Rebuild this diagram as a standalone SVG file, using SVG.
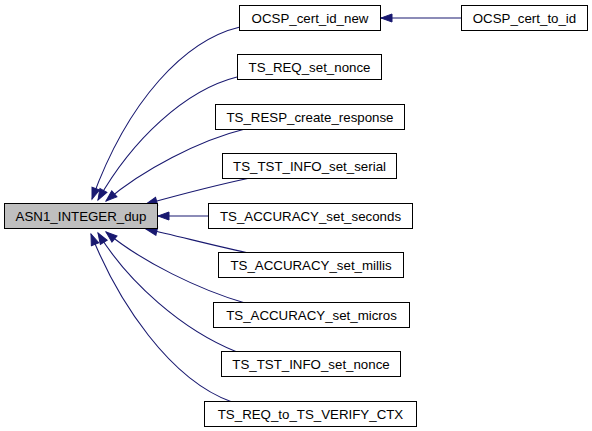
<svg xmlns="http://www.w3.org/2000/svg" width="592" height="431" viewBox="0 0 592 431">
<style>
.n rect{fill:#fff;stroke:#000;stroke-width:1}
.n text{font-family:"Liberation Sans",Arial,sans-serif;font-size:13.3px;text-anchor:middle;fill:#000}
.e path{fill:none;stroke:#191970;stroke-width:1.1}
</style>
<defs>
<marker id="a" markerUnits="userSpaceOnUse" markerWidth="14" markerHeight="11" refX="12" refY="5" orient="auto">
<path d="M1,1 L12,5 L1,9 z" fill="#191970" stroke="#191970" stroke-width="1"/>
</marker>
</defs>
<rect width="592" height="431" fill="#fff"/>
<g id="edges" class="e">
<path d="M461,18 L381,18" marker-end="url(#a)"/>
<path d="M240,27 C185,40 128,100 92,199" marker-end="url(#a)"/>
<path d="M237,77 C185,90 132,140 98,200" marker-end="url(#a)"/>
<path d="M245,129 C200,140 142,170 106,201" marker-end="url(#a)"/>
<path d="M250,178 C212,186 175,196 146,204" marker-end="url(#a)"/>
<path d="M208,216 L158,216" marker-end="url(#a)"/>
<path d="M253,254 C215,246 178,236 146,229" marker-end="url(#a)"/>
<path d="M245,303 C200,290 142,262 106,232" marker-end="url(#a)"/>
<path d="M237,352 C182,330 128,282 98,233" marker-end="url(#a)"/>
<path d="M232,402 C170,380 118,302 91,234" marker-end="url(#a)"/>
</g>
<g id="ASN1_INTEGER_dup" class="n"><rect x="4.5" y="203.5" width="153" height="25" style="fill:#bfbfbf"/><text x="81" y="221">ASN1_INTEGER_dup</text></g>
<g id="OCSP_cert_id_new" class="n"><rect x="239.5" y="5.5" width="141" height="25"/><text x="310" y="23">OCSP_cert_id_new</text></g>
<g id="OCSP_cert_to_id" class="n"><rect x="461.5" y="5.5" width="126" height="25"/><text x="524.5" y="23">OCSP_cert_to_id</text></g>
<g id="TS_REQ_set_nonce" class="n"><rect x="237.5" y="54.5" width="144" height="25"/><text x="309.5" y="72">TS_REQ_set_nonce</text></g>
<g id="TS_RESP_create_response" class="n"><rect x="215.5" y="104.5" width="189" height="25"/><text x="310" y="122">TS_RESP_create_response</text></g>
<g id="TS_TST_INFO_set_serial" class="n"><rect x="222.5" y="153.5" width="174" height="25"/><text x="309.5" y="171">TS_TST_INFO_set_serial</text></g>
<g id="TS_ACCURACY_set_seconds" class="n"><rect x="208.5" y="203.5" width="204" height="25"/><text x="310.5" y="221">TS_ACCURACY_set_seconds</text></g>
<g id="TS_ACCURACY_set_millis" class="n"><rect x="218.5" y="252.5" width="185" height="25"/><text x="311" y="270">TS_ACCURACY_set_millis</text></g>
<g id="TS_ACCURACY_set_micros" class="n"><rect x="213.5" y="302.5" width="196" height="25"/><text x="311.5" y="320">TS_ACCURACY_set_micros</text></g>
<g id="TS_TST_INFO_set_nonce" class="n"><rect x="221.5" y="351.5" width="179" height="25"/><text x="311" y="369">TS_TST_INFO_set_nonce</text></g>
<g id="TS_REQ_to_TS_VERIFY_CTX" class="n"><rect x="204.5" y="401.5" width="212" height="25"/><text x="310.5" y="419">TS_REQ_to_TS_VERIFY_CTX</text></g>
</svg>
